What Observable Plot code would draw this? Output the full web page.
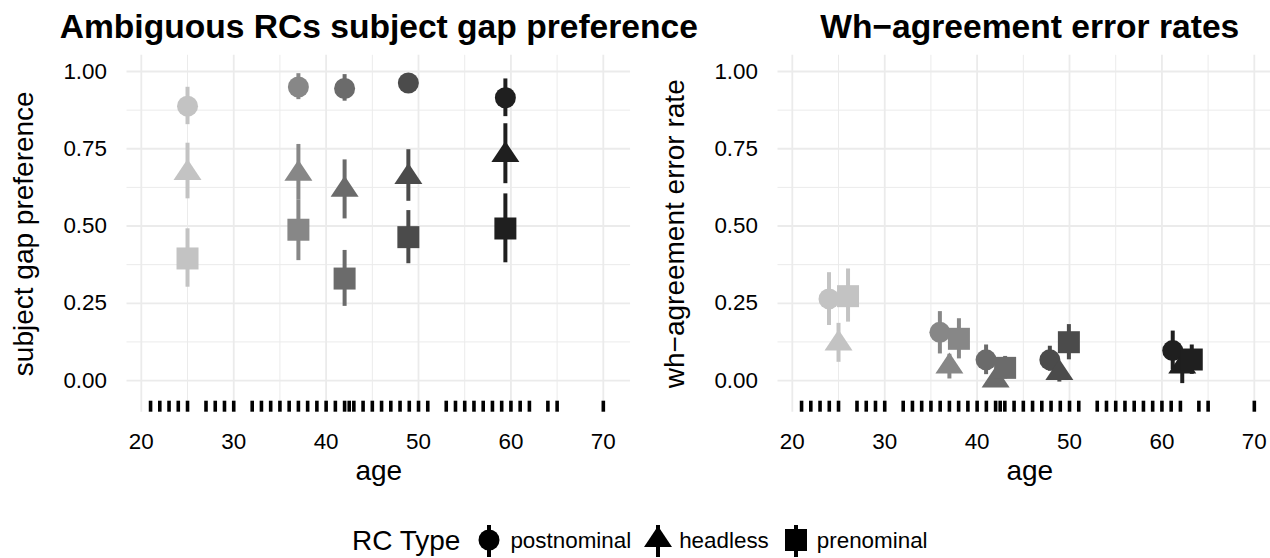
<!DOCTYPE html>
<html><head><meta charset="utf-8">
<script src="https://cdn.jsdelivr.net/npm/d3@7"></script>
<script src="https://cdn.jsdelivr.net/npm/@observablehq/plot@0.6"></script>
<style>
html,body{margin:0;padding:0;background:#fff;}
body{width:1270px;height:558px;position:relative;overflow:hidden;font-family:"Liberation Sans",Arial,Helvetica,sans-serif;color:#000;}
#left{position:absolute;left:0;top:0;width:650px;z-index:2;}
#right{position:absolute;left:651px;top:0;width:650px;z-index:1;}
#legend{position:absolute;left:352px;top:522px;height:38px;display:flex;align-items:center;white-space:nowrap;}
#legend .ttl{font-size:28px;margin-right:14px;}
#legend .lab{font-size:22.4px;margin-left:6px;margin-right:12px;}
#legend svg{display:block;}
</style></head><body>
<div id="right"></div><div id="left"></div><div id="legend"></div>
<script>
// ---- data ----
const rcTypes = ["postnominal", "headless", "prenominal"];
const sgpAgeGroupMeans = [25.0, 37.0, 42.0, 48.9, 59.4];
const whAgeGroupMeans  = [25.0, 37.0, 42.0, 48.9, 62.2];
const groupColors = ["#c3c3c3", "#878787", "#6b6b6b", "#4b4b4b", "#1f1f1f"];
const xTicks = [20, 30, 40, 50, 60, 70];
const xMinorTicks = [25, 35, 45, 55, 65];
const yTicks = [0, 0.25, 0.5, 0.75, 1];
const yMinorTicks = [0.125, 0.375, 0.625, 0.875];
const participantAges = [21,22,23,24,25,27,28,29,30,32,33,34,35,36,37,38,39,40,41,42,42.5,43,44,45,46,47,48,49,50,51,53,54,55,56,57,58,59,60,61,62,64,65,70];

// subject gap preference (left)
const sgpPostnominal   = [0.888, 0.950, 0.945, 0.963, 0.915];
const sgpPostnominalLo = [0.828, 0.909, 0.904, 0.945, 0.854];
const sgpPostnominalHi = [0.949, 0.993, 0.990, 0.980, 0.976];
const sgpHeadless      = [0.672, 0.669, 0.617, 0.659, 0.730];
const sgpHeadlessLo    = [0.588, 0.585, 0.523, 0.580, 0.637];
const sgpHeadlessHi    = [0.768, 0.764, 0.714, 0.747, 0.831];
const sgpPrenominal    = [0.395, 0.488, 0.330, 0.464, 0.492];
const sgpPrenominalLo  = [0.302, 0.388, 0.240, 0.378, 0.381];
const sgpPrenominalHi  = [0.491, 0.585, 0.421, 0.550, 0.604];

// wh-agreement error rate (right)
const whPostnominal   = [0.264, 0.156, 0.067, 0.067, 0.097];
const whPostnominalLo = [0.178, 0.086, 0.019, 0.030, 0.035];
const whPostnominalHi = [0.349, 0.223, 0.115, 0.111, 0.160];
const whHeadless      = [0.120, 0.045, 0.000, 0.024, 0.045];
const whHeadlessLo    = [0.059, 0.005, -0.020, -0.005, -0.010];
const whHeadlessHi    = [0.185, 0.085, 0.030, 0.050, 0.085];
const whPrenominal    = [0.273, 0.135, 0.041, 0.124, 0.068];
const whPrenominalLo  = [0.189, 0.070, 0.005, 0.067, 0.020];
const whPrenominalHi  = [0.361, 0.200, 0.078, 0.181, 0.115];

// ---- styling ----
const xDomain = [18.45, 72.95];
const yDomain = [-0.1025, 1.0525];
const dodgeWidth = 1.03;
const symbols = {
  postnominal: {draw(ctx){ ctx.moveTo(10.5,0); ctx.arc(0,0,10.5,0,2*Math.PI); ctx.closePath(); }},
  headless: {draw(ctx){ ctx.moveTo(0,-14); ctx.lineTo(14,7); ctx.lineTo(-14,7); ctx.closePath(); }},
  prenominal: {draw(ctx){ ctx.rect(-11,-11,22,22); }}
};

function rows(series, ages, dodge) {
  const out = [];
  rcTypes.forEach((t, ti) => {
    const [m, lo, hi] = series[t];
    m.forEach((v, i) => out.push({
      type: t, age: ages[i] + (dodge ? (ti === 0 ? -dodgeWidth : ti === 2 ? dodgeWidth : 0) : 0),
      mean: v, lo: lo[i], hi: hi[i], color: groupColors[i]
    }));
  });
  return out;
}
const leftRows = rows({
  postnominal: [sgpPostnominal, sgpPostnominalLo, sgpPostnominalHi],
  headless: [sgpHeadless, sgpHeadlessLo, sgpHeadlessHi],
  prenominal: [sgpPrenominal, sgpPrenominalLo, sgpPrenominalHi]
}, sgpAgeGroupMeans, false);
const rightRows = rows({
  postnominal: [whPostnominal, whPostnominalLo, whPostnominalHi],
  headless: [whHeadless, whHeadlessLo, whHeadlessHi],
  prenominal: [whPrenominal, whPrenominalLo, whPrenominalHi]
}, whAgeGroupMeans, true);

function panel(data, title, ylabel) {
  const marks = [
    Plot.gridX(xMinorTicks, {stroke: "#ebebeb", strokeOpacity: 1, strokeWidth: 1}),
    Plot.gridY(yMinorTicks, {stroke: "#ebebeb", strokeOpacity: 1, strokeWidth: 1}),
    Plot.gridX(xTicks, {stroke: "#ebebeb", strokeOpacity: 1, strokeWidth: 1.8}),
    Plot.gridY(yTicks, {stroke: "#ebebeb", strokeOpacity: 1, strokeWidth: 1.8}),
    Plot.axisX({ticks: xTicks, tickSize: 0, tickPadding: 21, fontSize: 22.4, label: null, tickFormat: d => String(d)}),
    Plot.axisY({ticks: yTicks, tickSize: 0, tickPadding: 20, fontSize: 22.4, label: null, tickFormat: d3.format(".2f")}),
    Plot.tickX(participantAges, {x: d => d, insetTop: 345.9, stroke: "#000", strokeWidth: 3.6}),
    Plot.ruleX(data, {x: "age", y1: "lo", y2: "hi", stroke: "color", strokeWidth: 4}),
  ];
  for (const t of rcTypes) {
    marks.push(Plot.dot(data.filter(d => d.type === t), {x: "age", y: "mean", symbol: symbols[t], fill: "color", stroke: "none"}));
  }
  marks.push(
    Plot.text([title], {frameAnchor: "top", dy: -17, lineAnchor: "bottom", textAnchor: "middle", fontSize: 33.6, fontWeight: "bold", fill: "#000"}),
    Plot.text(["age"], {frameAnchor: "bottom", dy: 68, lineAnchor: "bottom", textAnchor: "middle", fontSize: 28, fill: "#000"}),
    Plot.text([ylabel], {frameAnchor: "left", dx: -94, rotate: -90, lineAnchor: "bottom", textAnchor: "middle", fontSize: 28, fill: "#000"})
  );
  return Plot.plot({
    width: 650, height: 500,
    marginLeft: 126.5, marginRight: 650 - 126.5 - (xDomain[1]-xDomain[0]) * 9.24,
    marginTop: 54.8, marginBottom: 500 - 411.7,
    x: {domain: xDomain},
    y: {domain: yDomain},
    color: {type: "identity"},
    style: {fontFamily: "'Liberation Sans', Arial, sans-serif", color: "#000", background: "transparent", maxWidth: "none", overflow: "visible"},
    marks
  });
}

document.getElementById("left").append(panel(leftRows, "Ambiguous RCs subject gap preference", "subject gap preference"));
document.getElementById("right").append(panel(rightRows, "Wh\u2212agreement error rates", "wh\u2212agreement error rate"));

// ---- legend ----
const keyShapes = {
  postnominal: '<circle cx="15" cy="17" r="10.5"/>',
  headless: '<path d="M15,3 L29,24 L1,24 Z"/>',
  prenominal: '<rect x="4" y="6" width="22" height="22"/>'
};
const leg = document.getElementById("legend");
let html = '<span class="ttl">RC Type</span>';
rcTypes.forEach((t, i) => {
  html += '<svg width="30" height="36" viewBox="0 0 30 36"><line x1="15" x2="15" y1="2" y2="34" stroke="#000" stroke-width="4"/><g fill="#000">' + keyShapes[t] + '</g></svg>';
  html += '<span class="lab"' + (i === rcTypes.length - 1 ? ' style="margin-right:0"' : '') + '>' + t + '</span>';
});
leg.innerHTML = html;
</script></body></html>
